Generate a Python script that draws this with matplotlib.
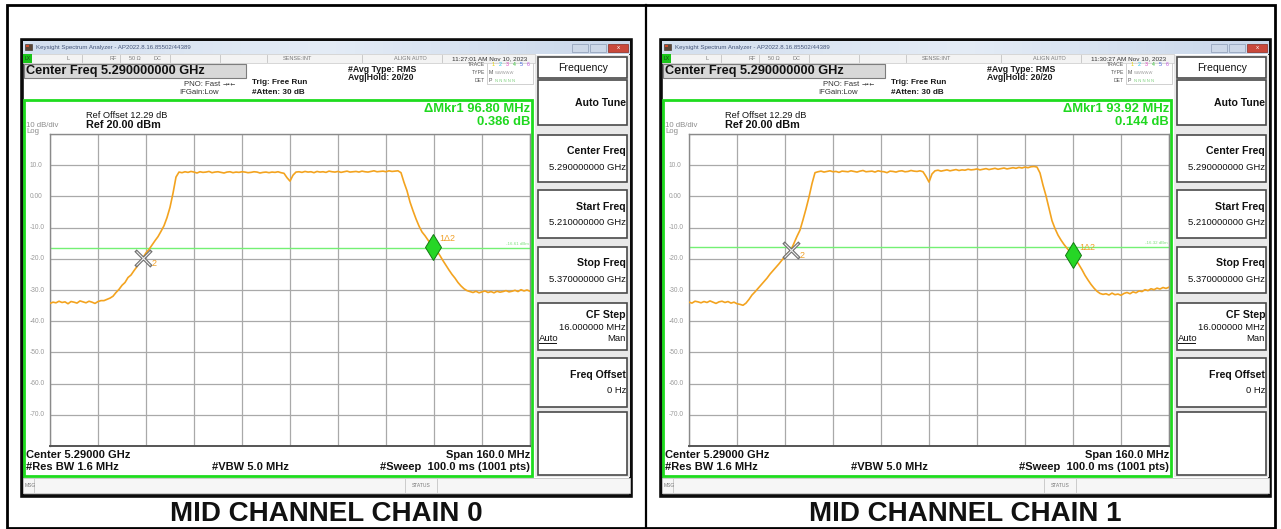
import numpy as np
import matplotlib
matplotlib.use("Agg")
import matplotlib.pyplot as plt
from matplotlib.patches import Rectangle
import matplotlib.transforms as mtransforms

plt.rcParams['font.family'] = ['Liberation Sans', 'DejaVu Sans']

# ---------------- data ----------------
start_mhz = 5210.0
stop_mhz = 5370.0
center_mhz = 5290.0
ref_level_dbm = 20.0
db_per_div = 10.0

y_ticks = [10, 0, -10, -20, -30, -40, -50, -60, -70]
y_tick_labels = ["10.0", "0.00", "-10.0", "-20.0", "-30.0", "-40.0", "-50.0", "-60.0", "-70.0"]

chain0_dbm = [
    -34.3, -33.9, -34.1, -33.6, -34.0, -33.8, -34.4, -33.7, -33.9, -34.2, -33.5,
    -33.8, -34.1, -33.6, -33.9, -34.3, -33.7, -33.4, -33.4, -33.0, -32.6,
    -32.0, -30.8, -29.8, -28.5, -27.6, -26.0, -25.2, -23.8, -22.5, -20.9, -19.6,
    -18.1, -17.0, -15.6, -14.2, -12.9, -11.2, -9.4, -6.8, -3.5, 1.0, 6.2, 7.8,
    7.6, 7.9, 7.7, 8.0, 7.8, 7.5, 7.9, 7.7, 7.8, 8.0, 7.6, 7.8, 7.9, 7.7, 7.5,
    7.8, 7.9, 7.6, 7.8, 7.7, 7.9, 7.8, 7.6, 7.7, 7.9, 7.8, 7.5, 7.7, 7.8, 7.6,
    7.8, 7.7, 7.9, 7.6, 7.4,
    6.0, 4.9, 6.8,
    7.8, 7.9, 7.7, 8.0, 7.8, 7.9, 7.6, 8.0, 7.8, 7.9, 7.7, 8.1, 7.9, 7.8, 8.0,
    7.7, 7.9, 8.1, 7.8, 7.9, 8.0, 7.8, 8.1, 7.9, 7.8, 8.0, 8.2, 7.9, 8.0, 8.1,
    7.9, 8.2, 8.0, 8.1, 8.2,
    7.6, 4.5, 1.8, -1.8, -4.6, -7.2, -9.5, -11.4, -12.6, -14.0, -15.2, -16.3,
    -17.5, -19.0, -20.6, -22.1, -23.6, -25.0, -26.2, -27.6, -28.7, -29.6, -30.2,
    -30.5, -30.8, -30.4, -30.9, -30.6, -30.3, -30.8, -30.5, -30.9, -30.4, -30.7,
    -30.5, -30.2, -30.6, -30.4, -30.1, -30.5, -29.9, -30.3, -30.0, -30.4,
]

chain1_dbm = [
    -33.9, -34.2, -33.6, -33.8, -34.1, -33.7, -34.0, -33.5, -33.9, -34.3, -33.8,
    -33.6, -34.0, -33.7, -34.2, -33.9, -34.4, -34.6, -34.9,
    -34.2, -33.0, -31.6, -30.6, -29.5, -28.4, -27.3, -26.2, -24.9, -23.8, -22.7,
    -21.6, -20.4, -19.2, -18.2, -17.2, -15.0, -12.8, -10.8, -7.5, -4.0, -0.2, 4.1, 7.6,
    7.9, 8.1, 7.8, 8.0, 8.2, 7.9, 8.0, 7.7, 8.1, 8.0, 7.9, 8.2, 8.0, 7.8, 8.1,
    8.3, 7.9, 8.0, 8.1, 7.8, 8.2, 8.0, 7.9, 7.6, 8.1, 8.0, 7.8, 8.1, 8.2, 7.9,
    8.0, 8.3, 8.1, 8.0, 8.2, 7.9,
    6.4, 4.6, 7.2,
    8.2, 8.4, 8.1, 8.3, 8.5, 8.2, 8.4, 8.6, 8.3, 8.5, 8.4, 8.7, 8.5, 8.6, 8.8,
    8.5, 8.7, 8.9, 8.6, 8.8, 9.0, 8.7, 8.9, 9.1, 8.8, 9.0, 9.2, 9.0, 9.3, 9.1,
    9.4, 9.2, 9.5, 9.6, 9.4,
    7.5, 3.6, 0.2, -3.8, -7.8, -10.3, -12.4, -14.0, -15.4, -16.6, -17.8, -19.0,
    -20.4, -21.9, -23.5, -25.3, -26.8, -28.2, -29.4, -30.4, -31.1, -31.4,
    -31.2, -31.6, -31.0, -31.5, -31.3, -31.7, -31.1, -30.8, -31.2, -30.6, -30.9,
    -30.3, -30.5, -29.9, -30.2, -29.6, -29.9, -29.4, -29.7, -29.2, -29.5, -29.1,
]

traces = [chain0_dbm, chain1_dbm]
captions = ["MID CHANNEL CHAIN 0", "MID CHANNEL CHAIN 1"]
timestamps = ["11:27:01 AM Nov 10, 2023", "11:30:27 AM Nov 10, 2023"]
delta_freq_text = ["\u0394Mkr1 96.80 MHz", "\u0394Mkr1 93.92 MHz"]
delta_db_text = ["0.386 dB", "0.144 dB"]
mkr2_freq_mhz = [5241.0, 5244.0]
delta_mhz = [96.80, 93.92]
display_line_dbm = [-16.6, -16.3]
display_line_text = ["-16.61 dBm", "-16.32 dBm"]

softkeys = [
    ("Frequency", None),
    ("Auto Tune", None),
    ("Center Freq", "5.290000000 GHz"),
    ("Start Freq", "5.210000000 GHz"),
    ("Stop Freq", "5.370000000 GHz"),
    ("CF Step", "16.000000 MHz"),
    ("Freq Offset", "0 Hz"),
    ("", None),
]

# ---------------- figure ----------------
W, H = 1281, 529
fig = plt.figure(figsize=(W / 100, H / 100), dpi=100)
ov = fig.add_axes([0, 0, 1, 1])
ov.set_xlim(0, W)
ov.set_ylim(H, 0)
ov.axis('off')

TRACE_C = '#F3A31F'
GREEN = '#1EDC1E'
ORANGE_T = '#F0A028'

# outer table frame
ov.add_patch(Rectangle((7, 5), 1268, 523, fc='none', ec='black', lw=2.0))
ov.plot([646, 646], [5, 528], color='black', lw=1.6)

key_boxes = [(57, 21), (80, 45), (135, 47), (190, 48), (247, 46), (303, 47), (358, 49), (412, 63)]


def draw_panel(i, dx):
    # screenshot frame
    ov.add_patch(Rectangle((22 + dx, 40), 609, 456, fc='white', ec='#0b0b0b', lw=2.6))
    # title bar
    grad = np.linspace(0, 1, 64).reshape(1, -1)
    ov.imshow(grad, extent=(23 + dx, 630 + dx, 54, 41), aspect='auto',
              cmap=matplotlib.colors.LinearSegmentedColormap.from_list('tb', ['#D3DFEF', '#E4ECF6', '#C9D7EA']),
              zorder=1)
    ov.add_patch(Rectangle((25 + dx, 43.5), 7, 6, fc='#5a4636', ec='#3a2a20', lw=0.4, zorder=2))
    ov.add_patch(Rectangle((26 + dx, 44.5), 2.5, 2.5, fc='#d04a2a', ec='none', zorder=3))
    ov.text(36 + dx, 47.2, "Keysight Spectrum Analyzer - AP2022.8.16.85502/44389", fontsize=4.4,
            color='#45567a', va='center', ha='left', zorder=3)
    ov.add_patch(Rectangle((572 + dx, 43.5), 16, 8, fc='#cdd8e8', ec='#8b9bb4', lw=0.5, zorder=2))
    ov.add_patch(Rectangle((590 + dx, 43.5), 16, 8, fc='#cdd8e8', ec='#8b9bb4', lw=0.5, zorder=2))
    ov.add_patch(Rectangle((608 + dx, 43.5), 20, 8, fc='#c9483b', ec='#8a2a20', lw=0.5, zorder=2))
    ov.text(618 + dx, 47.5, "x", fontsize=4.5, color='white', ha='center', va='center', zorder=3)

    # status row
    ov.add_patch(Rectangle((23 + dx, 54), 512, 8.5, fc='#f3f3f3', ec='#c9c9c9', lw=0.5, zorder=2))
    ov.add_patch(Rectangle((23 + dx, 54), 9, 8.5, fc='#18c418', ec='none', zorder=3))
    ov.text(27.5 + dx, 58.3, "LX", fontsize=3.6, color='#1c3a1c', ha='center', va='center', zorder=4)
    for sx in [82, 120, 170, 220, 267, 362, 442]:
        ov.plot([sx + dx, sx + dx], [54.5, 62], color='#c2c2c2', lw=0.6, zorder=3)
    for tx, t in [(68, "L"), (113, "RF"), (135, "50 \u03a9"), (157, "DC"), (297, "SENSE:INT"),
                  (410, "ALIGN AUTO")]:
        ov.text(tx + dx, 58.3, t, fontsize=4.0, color='#7a7a7a', ha='center', va='center', zorder=4)
    ov.text(490 + dx, 58.3, timestamps[i], fontsize=4.6, color='#333333', ha='center', va='center', zorder=4)

    # header
    ov.add_patch(Rectangle((24 + dx, 64), 222, 14, fc='#d8d8d8', ec='#7d7d7d', lw=0.8, zorder=2))
    ov.text(26 + dx, 71.2, "Center Freq 5.290000000 GHz", fontsize=9.2, fontweight='bold',
            color='#111111', ha='left', va='center', zorder=3)
    ov.text(184 + dx, 84, "PNO: Fast", fontsize=5.6, color='#333333', ha='left', va='center')
    ov.text(223 + dx, 84, "\u2192\u2022\u2190", fontsize=4.2, color='#333333', ha='left', va='center',
            family=['DejaVu Sans'])
    ov.text(179 + dx, 93, "IFGain:Low", fontsize=5.6, color='#333333', ha='left', va='center')
    ov.text(252 + dx, 82.5, "Trig: Free Run", fontsize=5.9, fontweight='bold', color='#1a1a1a',
            ha='left', va='center')
    ov.text(252 + dx, 93, "#Atten: 30 dB", fontsize=5.9, fontweight='bold', color='#1a1a1a',
            ha='left', va='center')
    ov.text(348 + dx, 69, "#Avg Type: RMS", fontsize=6.3, fontweight='bold', color='#1a1a1a',
            ha='left', va='center')
    ov.text(348 + dx, 78, "Avg|Hold: 20/20", fontsize=6.3, fontweight='bold', color='#1a1a1a',
            ha='left', va='center')
    # trace info block
    for ty, t in [(64.5, "TRACE"), (72.5, "TYPE"), (80.5, "DET")]:
        ov.text(485 + dx, ty, t, fontsize=3.7, color='#555555', ha='right', va='center')
    ov.add_patch(Rectangle((487 + dx, 61), 46, 23, fc='white', ec='#bdbdbd', lw=0.5))
    digit_cols = ['#e8d200', '#22c8e8', '#e040c0', '#30c030', '#4060e0', '#c050e0']
    for k, c in enumerate(digit_cols):
        ov.text(493 + dx + k * 7, 64.5, str(k + 1), fontsize=3.8, color=c, ha='center', va='center')
    ov.text(489 + dx, 72.5, "M", fontsize=3.8, color='#555555', ha='left', va='center')
    ov.text(495 + dx, 72.5, "WWWWW", fontsize=3.0, color='#9a9a9a', ha='left', va='center')
    ov.text(489 + dx, 80.5, "P", fontsize=3.8, color='#555555', ha='left', va='center')
    ov.text(495 + dx, 80.5, "N N N N N", fontsize=3.0, color='#7ad07a', ha='left', va='center')

    # softkeys
    ov.add_patch(Rectangle((535 + dx, 55), 95, 422, fc='#e9e9e9', ec='none', zorder=1))
    for k, ((top, hgt), (lab, val)) in enumerate(zip(key_boxes, softkeys)):
        ov.add_patch(Rectangle((538 + dx, top), 89, hgt, fc='white', ec='#4a4a4a', lw=1.2, zorder=2))
        if k == 0:
            ov.text(583 + dx, top + hgt / 2 + 0.5, lab, fontsize=7.6, color='#111111',
                    ha='center', va='center', zorder=3)
        elif lab:
            if val is None:
                ov.text(626 + dx, top + hgt / 2 + 1, lab, fontsize=7.6, fontweight='bold',
                        color='#111111', ha='right', va='center', zorder=3)
            elif lab == "CF Step":
                ov.text(626 + dx, top + 12, lab, fontsize=7.6, fontweight='bold',
                        color='#111111', ha='right', va='center', zorder=3)
                ov.text(626 + dx, top + 24, val, fontsize=6.8, color='#111111',
                        ha='right', va='center', zorder=3)
                ov.text(539 + dx, top + 35.5, "Auto", fontsize=6.8, color='#111111',
                        ha='left', va='center', zorder=3)
                ov.plot([539 + dx, 556 + dx], [top + 40, top + 40], color='#111111', lw=0.7, zorder=3)
                ov.text(626 + dx, top + 35.5, "Man", fontsize=6.8, color='#111111',
                        ha='right', va='center', zorder=3)
            else:
                ov.text(626 + dx, top + 16.5, lab, fontsize=7.6, fontweight='bold',
                        color='#111111', ha='right', va='center', zorder=3)
                ov.text(626 + dx, top + 32.5, val, fontsize=6.8, color='#111111',
                        ha='right', va='center', zorder=3)

    # green measurement frame
    ov.add_patch(Rectangle((24 + dx, 100), 508, 376, fc='none', ec=GREEN, lw=2.0, zorder=3))
    ov.text(86 + dx, 115, "Ref Offset 12.29 dB", fontsize=6.7, color='#151515', ha='left', va='center')
    ov.text(86 + dx, 125.5, "Ref 20.00 dBm", fontsize=7.8, fontweight='bold', color='#111111',
            ha='left', va='center')
    ov.text(26 + dx, 125.5, "10 dB/div", fontsize=5.6, color='#8c8c8c', ha='left', va='center')
    ov.text(26 + dx, 131.5, "Log", fontsize=5.6, color='#8c8c8c', ha='left', va='center')
    ov.text(530 + dx, 109.5, delta_freq_text[i], fontsize=9.4, fontweight='bold', color='#1fd81f',
            ha='right', va='center')
    ov.text(530 + dx, 122, delta_db_text[i], fontsize=9.4, fontweight='bold', color='#1fd81f',
            ha='right', va='center')
    ov.text(26 + dx, 455, "Center 5.29000 GHz", fontsize=8.0, fontweight='bold', color='#111111',
            ha='left', va='center')
    ov.text(26 + dx, 467, "#Res BW 1.6 MHz", fontsize=8.0, fontweight='bold', color='#111111',
            ha='left', va='center')
    ov.text(250 + dx, 467, "#VBW 5.0 MHz", fontsize=8.0, fontweight='bold', color='#111111',
            ha='center', va='center')
    ov.text(530 + dx, 455, "Span 160.0 MHz", fontsize=8.0, fontweight='bold', color='#111111',
            ha='right', va='center')
    ov.text(530 + dx, 467, "#Sweep  100.0 ms (1001 pts)", fontsize=8.0, fontweight='bold',
            color='#111111', ha='right', va='center')

    # message bar
    ov.add_patch(Rectangle((23 + dx, 478), 607, 15, fc='#f6f6f6', ec='#c4c4c4', lw=0.6, zorder=2))
    for sx in [34, 405, 437]:
        ov.plot([sx + dx, sx + dx], [479, 492], color='#c4c4c4', lw=0.6, zorder=3)
    ov.text(25 + dx, 485.5, "MSG", fontsize=3.6, color='#777777', ha='left', va='center', zorder=4)
    ov.text(421 + dx, 485.5, "STATUS", fontsize=3.6, color='#777777', ha='center', va='center', zorder=4)

    # caption
    ov.text(326 + dx, 514, captions[i], fontsize=20, fontweight='bold', color='#111111',
            ha='center', va='center')

    # graticule axes
    gx0, gx1, gy0, gy1 = 50 + dx, 530 + dx, 134, 446
    ax = fig.add_axes([gx0 / W, 1 - gy1 / H, (gx1 - gx0) / W, (gy1 - gy0) / H])
    ax.set_facecolor('white')
    ax.set_xlim(start_mhz, stop_mhz)
    ax.set_ylim(ref_level_dbm - 10 * db_per_div, ref_level_dbm)
    ax.set_xticks(np.linspace(start_mhz, stop_mhz, 11))
    ax.set_yticks(np.arange(ref_level_dbm - 10 * db_per_div, ref_level_dbm + 1, db_per_div))
    ax.grid(True, color='#a9a9a9', lw=0.9)
    ax.tick_params(length=0, labelbottom=False, labelleft=False)
    for s in ax.spines.values():
        s.set_color('#8a8a8a')
        s.set_linewidth(1.0)
    ax.spines['bottom'].set_color('#555555')
    ax.spines['bottom'].set_linewidth(1.4)

    ytr = ax.get_yaxis_transform()
    for v, lab in zip(y_ticks, y_tick_labels):
        ax.text(-0.042, v, lab, transform=ytr, fontsize=4.8, color='#9a9a9a',
                ha='left', va='center', clip_on=False)

    vals = np.asarray(traces[i])
    freqs = np.linspace(start_mhz, stop_mhz, len(vals))
    ax.axhline(display_line_dbm[i], color='#74F074', lw=1.0, zorder=2)
    ax.text(0.997, display_line_dbm[i] + 0.6, display_line_text[i], transform=ytr, fontsize=3.2,
            color='#7ee07e', ha='right', va='bottom')
    ax.plot(freqs, vals, color=TRACE_C, lw=1.2, zorder=3)

    f2 = mkr2_freq_mhz[i]
    f1 = f2 + delta_mhz[i]
    l2 = np.interp(f2, freqs, vals)
    l1 = np.interp(f1, freqs, vals)
    ax.plot([f2], [l2], marker='x', ms=11, mew=2.4, color='#6f6f6f', zorder=5)
    ax.plot([f2], [l2], marker='x', ms=10, mew=0.8, color='#eeeeee', zorder=6)
    ax.annotate("2", (f2, l2), xytext=(6, -4), textcoords='offset points', fontsize=6.5,
                color=ORANGE_T, ha='left', va='center', zorder=6)
    ax.plot([f1], [l1], marker='d', ms=13, mfc='#26D626', mec='#117a11', mew=0.7, zorder=6)
    ax.annotate("1\u03942", (f1, l1), xytext=(4.5, 5.5), textcoords='offset points', fontsize=6.5,
                color=ORANGE_T, ha='left', va='center', zorder=6)
    return ax


draw_panel(0, 0)
draw_panel(1, 639)

fig.savefig("out.png", dpi=100)
